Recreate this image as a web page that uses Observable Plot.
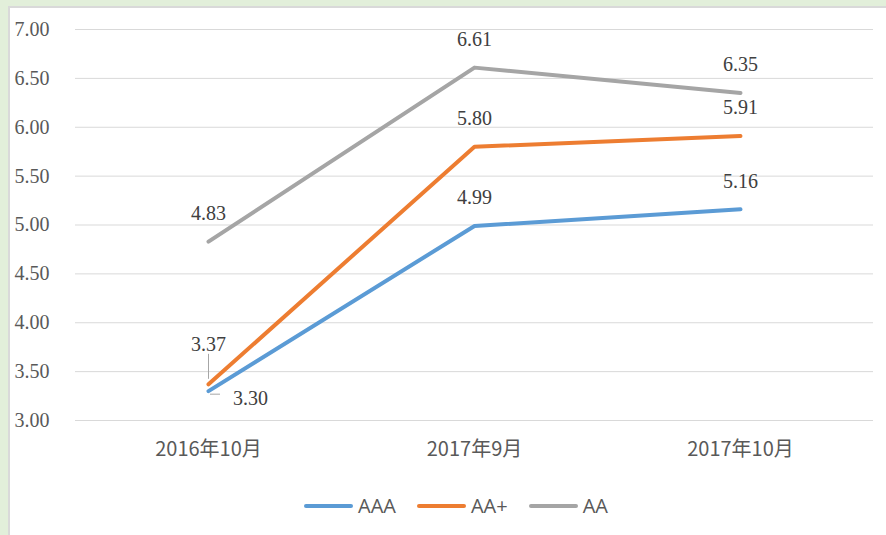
<!DOCTYPE html>
<html>
<head>
<meta charset="utf-8">
<script src="https://cdn.jsdelivr.net/npm/d3@7"></script>
<script src="https://cdn.jsdelivr.net/npm/@observablehq/plot@0.6"></script>
<style>
  html, body { margin: 0; padding: 0; }
  body { width: 886px; height: 535px; background: #e2efda; position: relative; overflow: hidden; }
  #panel {
    position: absolute; left: 8px; top: 6px; width: 880px; height: 532px;
    background: #fff; border: 2px solid #d9d9d9; box-sizing: border-box;
  }
  #chart { position: absolute; left: -1px; top: -1px; }
  #legend {
    position: absolute; left: 0; top: 484px; width: 100%;
    display: flex; justify-content: center; gap: 21px; padding-left: 16px; box-sizing: border-box;
    font-family: "Open Sans", "Noto Sans CJK SC", sans-serif; font-size: 20px; color: #595959;
  }
  #legend .item { display: flex; align-items: center; gap: 5px; }
  #legend .swatch { width: 49px; height: 4px; border-radius: 2px; }
</style>
</head>
<body>
<div id="panel">
  <div id="chart"></div>
  <div id="legend"></div>
</div>
<script>
// Periods on the x axis and yields (%) for each rating grade
const periods = ["2016年10月", "2017年9月", "2017年10月"];
const seriesNames = ["AAA", "AA+", "AA"];
const aaa = [3.30, 4.99, 5.16];
const aaPlus = [3.37, 5.80, 5.91];
const aa = [4.83, 6.61, 6.35];
const yTicks = [3.00, 3.50, 4.00, 4.50, 5.00, 5.50, 6.00, 6.50, 7.00];
const colors = ["#5b9bd5", "#ed7d31", "#a5a5a5"];

const seriesValues = [aaa, aaPlus, aa];
const rows = seriesNames.flatMap((s, i) =>
  periods.map((p, j) => ({series: s, period: p, value: seriesValues[i][j]}))
);

// Labels drawn above their points, except the two crowded first-period values
const isCallout = d => d.period === periods[0] && (d.series === "AAA" || d.series === "AA+");
const above = rows.filter(d => !isCallout(d));
const calloutUp = rows.filter(d => d.period === periods[0] && d.series === "AA+");
const calloutRight = rows.filter(d => d.period === periods[0] && d.series === "AAA");

const serif = "'Liberation Serif', 'Times New Roman', serif";

const chart = Plot.plot({
  width: 876,
  height: 470,
  marginLeft: 66,
  marginRight: 12,
  marginTop: 22,
  marginBottom: 57,
  style: {background: "transparent", overflow: "visible"},
  x: {type: "point", domain: periods, padding: 0.5, label: null},
  y: {domain: [3, 7], ticks: yTicks, label: null},
  color: {domain: seriesNames, range: colors},
  marks: [
    Plot.gridY(yTicks, {stroke: "#d9d9d9", strokeOpacity: 1, strokeWidth: 1}),
    Plot.axisY(yTicks, {
      tickSize: 0, tickPadding: 0, textAnchor: "start", dx: -61,
      tickFormat: d3.format(".2f"),
      fontFamily: serif, fontSize: 20, fill: "#595959"
    }),
    Plot.axisX({
      tickSize: 0, tickPadding: 21, fontSize: 20,
      fontFamily: "'Noto Sans CJK SC', sans-serif", fill: "#595959"
    }),
    Plot.line(rows, {
      x: "period", y: "value", z: "series", stroke: "series",
      strokeWidth: 4, strokeLinecap: "round", strokeLinejoin: "round"
    }),
    Plot.text(above, {
      x: "period", y: "value", text: d => d.value.toFixed(2),
      dy: -28, fontFamily: serif, fontSize: 20, fill: "#404040"
    }),
    // leader + label for AA+ first value, placed above
    Plot.ruleX(calloutUp, {x: "period", y1: "value", y2: "value", insetTop: -30, insetBottom: 5, stroke: "#a6a6a6", strokeWidth: 1}),
    Plot.text(calloutUp, {
      x: "period", y: "value", text: d => d.value.toFixed(2),
      dy: -40, fontFamily: serif, fontSize: 20, fill: "#404040"
    }),
    // leader + label for AAA first value, placed to the lower right
    Plot.ruleY(calloutRight, {y: "value", x1: "period", x2: "period", insetLeft: 2, insetRight: -12, dy: 3, stroke: "#a6a6a6", strokeWidth: 1}),
    Plot.text(calloutRight, {
      x: "period", y: "value", text: d => d.value.toFixed(2),
      dx: 42, dy: 7, fontFamily: serif, fontSize: 20, fill: "#404040"
    })
  ]
});
document.getElementById("chart").appendChild(chart);

// Legend below the plot
const legend = document.getElementById("legend");
seriesNames.forEach((name, i) => {
  const item = document.createElement("div");
  item.className = "item";
  const sw = document.createElement("span");
  sw.className = "swatch";
  sw.style.background = colors[i];
  const label = document.createElement("span");
  label.textContent = name;
  item.appendChild(sw);
  item.appendChild(label);
  legend.appendChild(item);
});
</script>
</body>
</html>
